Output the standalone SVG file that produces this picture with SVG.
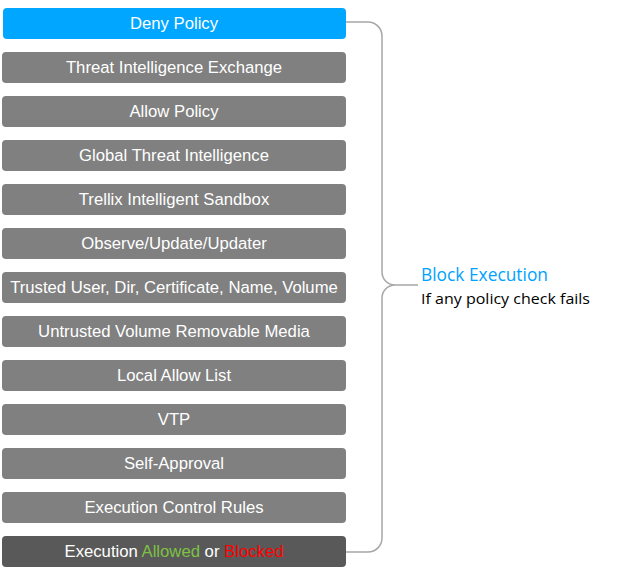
<svg xmlns="http://www.w3.org/2000/svg" width="620" height="578" viewBox="0 0 620 578">
<style>
.b{fill:#808080}
.t{font-family:"Liberation Sans",Arial,sans-serif;font-size:16.7px;fill:#ffffff;text-anchor:middle}
.c{fill:none;stroke:#a6a6a6;stroke-width:1.5}
</style>
<rect width="620" height="578" fill="#ffffff"/>
<g id="connectors">
<path class="c" d="M346,22 H368 A14,14 0 0 1 382,36 V272 A13,13 0 0 0 395,285 H418 M395,285 A13,13 0 0 0 382,298 V538 A14,14 0 0 1 368,552 H346"/>
</g>
<g id="n1"><rect x="3" y="8" width="343" height="31" rx="4" fill="#00a6ff"/><text class="t" x="174" y="29">Deny Policy</text></g>
<g id="n2"><rect class="b" x="2" y="52" width="344" height="31" rx="4"/><text class="t" x="174" y="73">Threat Intelligence Exchange</text></g>
<g id="n3"><rect class="b" x="2" y="96" width="344" height="31" rx="4"/><text class="t" x="174" y="117">Allow Policy</text></g>
<g id="n4"><rect class="b" x="2" y="140" width="344" height="31" rx="4"/><text class="t" x="174" y="161">Global Threat Intelligence</text></g>
<g id="n5"><rect class="b" x="2" y="184" width="344" height="31" rx="4"/><text class="t" x="174" y="205">Trellix Intelligent Sandbox</text></g>
<g id="n6"><rect class="b" x="2" y="228" width="344" height="31" rx="4"/><text class="t" x="174" y="249">Observe/Update/Updater</text></g>
<g id="n7"><rect class="b" x="2" y="272" width="344" height="31" rx="4"/><text class="t" x="174" y="293">Trusted User, Dir, Certificate, Name, Volume</text></g>
<g id="n8"><rect class="b" x="2" y="316" width="344" height="31" rx="4"/><text class="t" x="174" y="337">Untrusted Volume Removable Media</text></g>
<g id="n9"><rect class="b" x="2" y="360" width="344" height="31" rx="4"/><text class="t" x="174" y="381">Local Allow List</text></g>
<g id="n10"><rect class="b" x="2" y="404" width="344" height="31" rx="4"/><text class="t" x="174" y="425">VTP</text></g>
<g id="n11"><rect class="b" x="2" y="448" width="344" height="31" rx="4"/><text class="t" x="174" y="469">Self-Approval</text></g>
<g id="n12"><rect class="b" x="2" y="492" width="344" height="31" rx="4"/><text class="t" x="174" y="513">Execution Control Rules</text></g>
<g id="n13"><rect x="2" y="536" width="344" height="31" rx="4" fill="#595959"/><text class="t" x="174" y="557">Execution <tspan fill="#7dc242">Allowed</tspan> or <tspan fill="#ff0000">Blocked</tspan></text></g>
<g id="label">
<text x="421" y="281" font-family="'Open Sans','Liberation Sans',sans-serif" font-size="17.4" fill="#00a2ff" textLength="127" lengthAdjust="spacingAndGlyphs">Block Execution</text>
<text x="421" y="304" font-family="'Open Sans','Liberation Sans',sans-serif" font-size="15" fill="#000000" textLength="169" lengthAdjust="spacingAndGlyphs">If any policy check fails</text>
</g>
</svg>
